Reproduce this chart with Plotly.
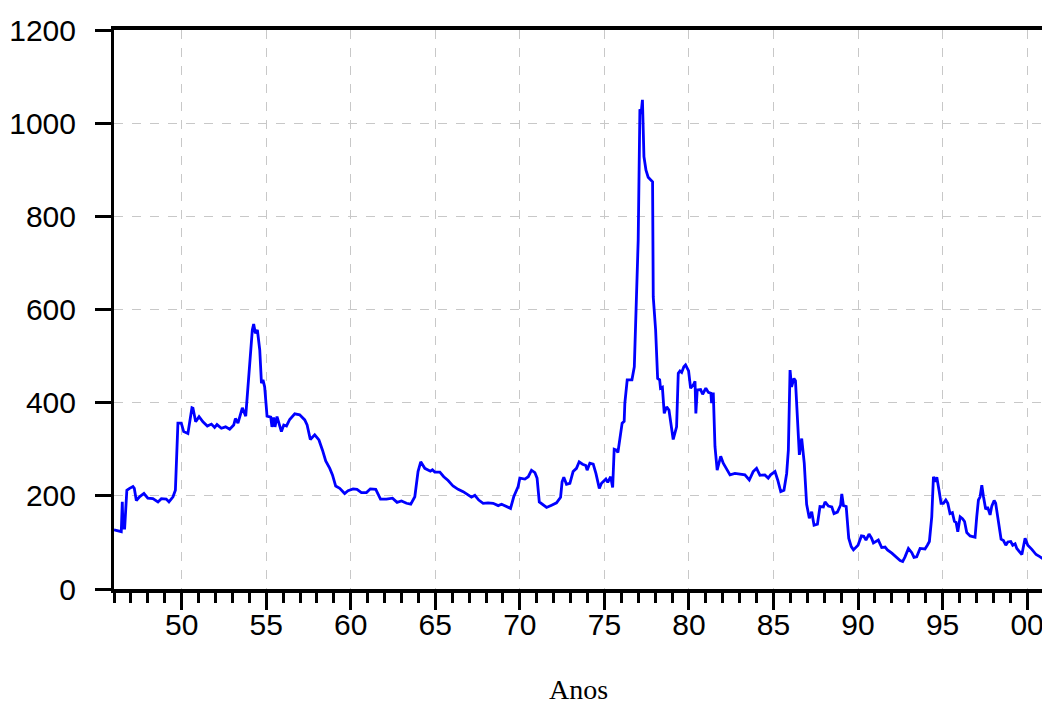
import plotly.graph_objects as go

# Monthly-ish series, decimal years
years = [
    1946.0, 1946.3, 1946.43, 1946.49, 1946.53, 1946.63, 1946.76, 1946.92, 1947.12, 1947.2,
    1947.32, 1947.51, 1947.77, 1948.0, 1948.3, 1948.6, 1948.8, 1949.09, 1949.25, 1949.49,
    1949.63, 1949.78, 1949.98, 1950.12, 1950.37, 1950.61, 1950.67, 1950.83, 1951.03, 1951.26,
    1951.52, 1951.76, 1951.95, 1952.09, 1952.35, 1952.6, 1952.84, 1953.08, 1953.18, 1953.33,
    1953.59, 1953.79, 1953.98, 1954.18, 1954.26, 1954.36, 1954.48, 1954.62, 1954.72, 1954.81,
    1954.91, 1955.05, 1955.27, 1955.34, 1955.44, 1955.52, 1955.64, 1955.8, 1955.9, 1956.04,
    1956.2, 1956.39, 1956.69, 1956.98, 1957.18, 1957.28, 1957.42, 1957.61, 1957.87, 1958.12,
    1958.33, 1958.52, 1958.76, 1958.92, 1959.11, 1959.35, 1959.64, 1959.84, 1960.14, 1960.37,
    1960.63, 1960.93, 1961.16, 1961.48, 1961.76, 1962.11, 1962.47, 1962.74, 1963.0, 1963.3,
    1963.55, 1963.79, 1963.98, 1964.14, 1964.38, 1964.71, 1964.83, 1964.97, 1965.27, 1965.5,
    1965.76, 1966.05, 1966.35, 1966.65, 1966.94, 1967.14, 1967.34, 1967.57, 1967.83, 1968.12,
    1968.42, 1968.72, 1968.92, 1969.21, 1969.45, 1969.64, 1969.9, 1970.0, 1970.3, 1970.5,
    1970.69, 1970.89, 1971.02, 1971.15, 1971.38, 1971.58, 1971.88, 1972.17, 1972.41, 1972.5,
    1972.6, 1972.76, 1972.96, 1973.15, 1973.35, 1973.51, 1973.71, 1973.9, 1973.98, 1974.14,
    1974.34, 1974.5, 1974.7, 1974.83, 1975.09, 1975.2, 1975.37, 1975.49, 1975.58, 1975.72,
    1975.8, 1975.92, 1976.05, 1976.17, 1976.21, 1976.35, 1976.55, 1976.63, 1976.77, 1976.9,
    1977.0, 1977.1, 1977.17, 1977.25, 1977.34, 1977.46, 1977.59, 1977.85, 1977.89, 1978.03,
    1978.15, 1978.27, 1978.32, 1978.43, 1978.54, 1978.68, 1978.82, 1979.07, 1979.27, 1979.37,
    1979.47, 1979.57, 1979.7, 1979.8, 1979.98, 1980.1, 1980.26, 1980.36, 1980.41, 1980.49,
    1980.69, 1980.81, 1981.0, 1981.15, 1981.3, 1981.34, 1981.44, 1981.54, 1981.67, 1981.88,
    1982.03, 1982.19, 1982.43, 1982.72, 1983.02, 1983.31, 1983.57, 1983.8, 1984.0, 1984.2,
    1984.49, 1984.69, 1984.83, 1985.09, 1985.25, 1985.43, 1985.62, 1985.78, 1985.88, 1985.98,
    1986.07, 1986.21, 1986.3, 1986.41, 1986.53, 1986.67, 1986.82, 1986.96, 1987.12, 1987.26,
    1987.4, 1987.6, 1987.75, 1987.95, 1988.05, 1988.25, 1988.45, 1988.58, 1988.78, 1988.97,
    1989.04, 1989.14, 1989.3, 1989.45, 1989.6, 1989.73, 1990.0, 1990.2, 1990.34, 1990.47,
    1990.65, 1990.8, 1990.91, 1991.2, 1991.4, 1991.6, 1991.74, 1992.0, 1992.25, 1992.49,
    1992.64, 1992.78, 1992.98, 1993.18, 1993.31, 1993.47, 1993.67, 1993.96, 1994.1, 1994.22,
    1994.36, 1994.46, 1994.56, 1994.66, 1994.79, 1994.91, 1995.05, 1995.19, 1995.31, 1995.44,
    1995.58, 1995.7, 1995.8, 1995.9, 1996.04, 1996.18, 1996.3, 1996.43, 1996.63, 1996.92,
    1997.02, 1997.12, 1997.22, 1997.32, 1997.42, 1997.55, 1997.66, 1997.81, 1997.91, 1998.05,
    1998.14, 1998.3, 1998.46, 1998.6, 1998.74, 1998.86, 1999.03, 1999.15, 1999.29, 1999.39,
    1999.59, 1999.69, 1999.88, 2000.04, 2000.28, 2000.53, 2000.77, 2000.92,
]

values = [
    127, 124, 123, 187, 131, 131, 212, 216, 220, 216,
    190, 198, 205, 195, 194, 187, 194, 193, 187, 198,
    212, 356, 356, 338, 334, 389, 388, 359, 370, 359,
    350, 354, 347, 353, 345, 348, 343, 352, 366, 356,
    389, 371, 456, 556, 569, 549, 556, 513, 442, 449,
    434, 371, 369, 348, 368, 348, 370, 348, 338, 352,
    350, 364, 376, 374, 368, 363, 352, 321, 331, 320,
    298, 275, 259, 245, 221, 216, 205, 211, 215, 214,
    207, 207, 215, 214, 193, 193, 195, 186, 189, 184,
    182, 198, 252, 273, 259, 253, 256, 251, 251, 241,
    233, 221, 214, 209, 202, 197, 201, 191, 184, 185,
    184, 179, 182, 177, 173, 198, 220, 238, 236, 241,
    255, 250, 238, 187, 180, 175, 180, 185, 197, 230,
    240, 225, 227, 252, 259, 273, 268, 265, 255, 270,
    268, 248, 216, 227, 236, 229, 241, 218, 300, 298,
    293, 320, 356, 360, 399, 449, 450, 449, 477, 606,
    749, 1030, 1020, 1050, 928, 899, 884, 874, 627, 556,
    452, 449, 431, 433, 377, 391, 384, 321, 348, 463,
    468, 465, 477, 481, 468, 431, 438, 446, 377, 427,
    428, 418, 431, 422, 420, 399, 422, 306, 255, 285,
    270, 260, 245, 248, 246, 245, 234, 252, 259, 244,
    245, 238, 245, 252, 234, 209, 212, 248, 298, 470,
    434, 452, 447, 370, 288, 323, 270, 182, 152, 166,
    137, 139, 177, 176, 187, 178, 176, 162, 165, 180,
    204, 179, 177, 109, 91, 84, 94, 114, 113, 105,
    118, 109, 99, 105, 89, 90, 84, 77, 69, 61,
    59, 69, 87, 78, 68, 69, 87, 86, 94, 102,
    155, 241, 230, 240, 212, 184, 184, 191, 184, 162,
    164, 145, 143, 123, 155, 151, 145, 121, 114, 111,
    155, 191, 198, 223, 198, 171, 176, 159, 178, 190,
    184, 148, 107, 104, 94, 101, 102, 94, 97, 87,
    77, 74, 109, 94, 85, 74, 69, 65,
]

x_tickvals = [1950, 1955, 1960, 1965, 1970, 1975, 1980, 1985, 1990, 1995, 2000]
x_ticktext = ["50", "55", "60", "65", "70", "75", "80", "85", "90", "95", "00"]
y_tickvals = [0, 200, 400, 600, 800, 1000, 1200]
x_title = "Anos"

fig = go.Figure()
fig.add_trace(go.Scatter(
    x=years, y=values, mode="lines",
    line=dict(color="#0000ff", width=2.8),
    showlegend=False, hoverinfo="skip",
))

grid = dict(showgrid=True, gridcolor="#c8c8c8", gridwidth=1, griddash="dash")

fig.update_layout(
    template="none",
    width=1042, height=704,
    margin=dict(l=114, r=0, t=30, b=115),
    paper_bgcolor="white", plot_bgcolor="white",
    font=dict(family="Liberation Sans, Arial, sans-serif", color="black"),
    xaxis=dict(
        range=[1946.0, 2000.88], automargin=False,
        tickmode="array", tickvals=x_tickvals, ticktext=x_ticktext,
        ticks="outside", ticklen=17, tickwidth=2.5, tickcolor="black",
        tickfont=dict(size=30), ticklabelstandoff=-11, ticklabeloverflow="allow",
        minor=dict(tick0=1946, dtick=1, ticks="outside", ticklen=10,
                   tickwidth=2.5, tickcolor="black", showgrid=False),
        showline=True, linewidth=3.5, linecolor="black", mirror=True,
        zeroline=False,
        **grid,
    ),
    yaxis=dict(
        range=[0, 1200], automargin=False,
        tickmode="array", tickvals=y_tickvals,
        ticks="outside", ticklen=16, tickwidth=2.5, tickcolor="black",
        tickfont=dict(size=30), ticklabelstandoff=13,
        showline=True, linewidth=3, linecolor="black", mirror=False,
        zeroline=False,
        **grid,
    ),
)

# Axis title placed below the tick labels, centred on the plot area
fig.add_annotation(
    text=x_title, xref="paper", yref="paper", x=0.5, y=0,
    xanchor="center", yanchor="middle", yshift=-100, showarrow=False,
    font=dict(family="Liberation Serif, Times New Roman, serif", size=28, color="black"),
)

fig.write_html("out.html")
